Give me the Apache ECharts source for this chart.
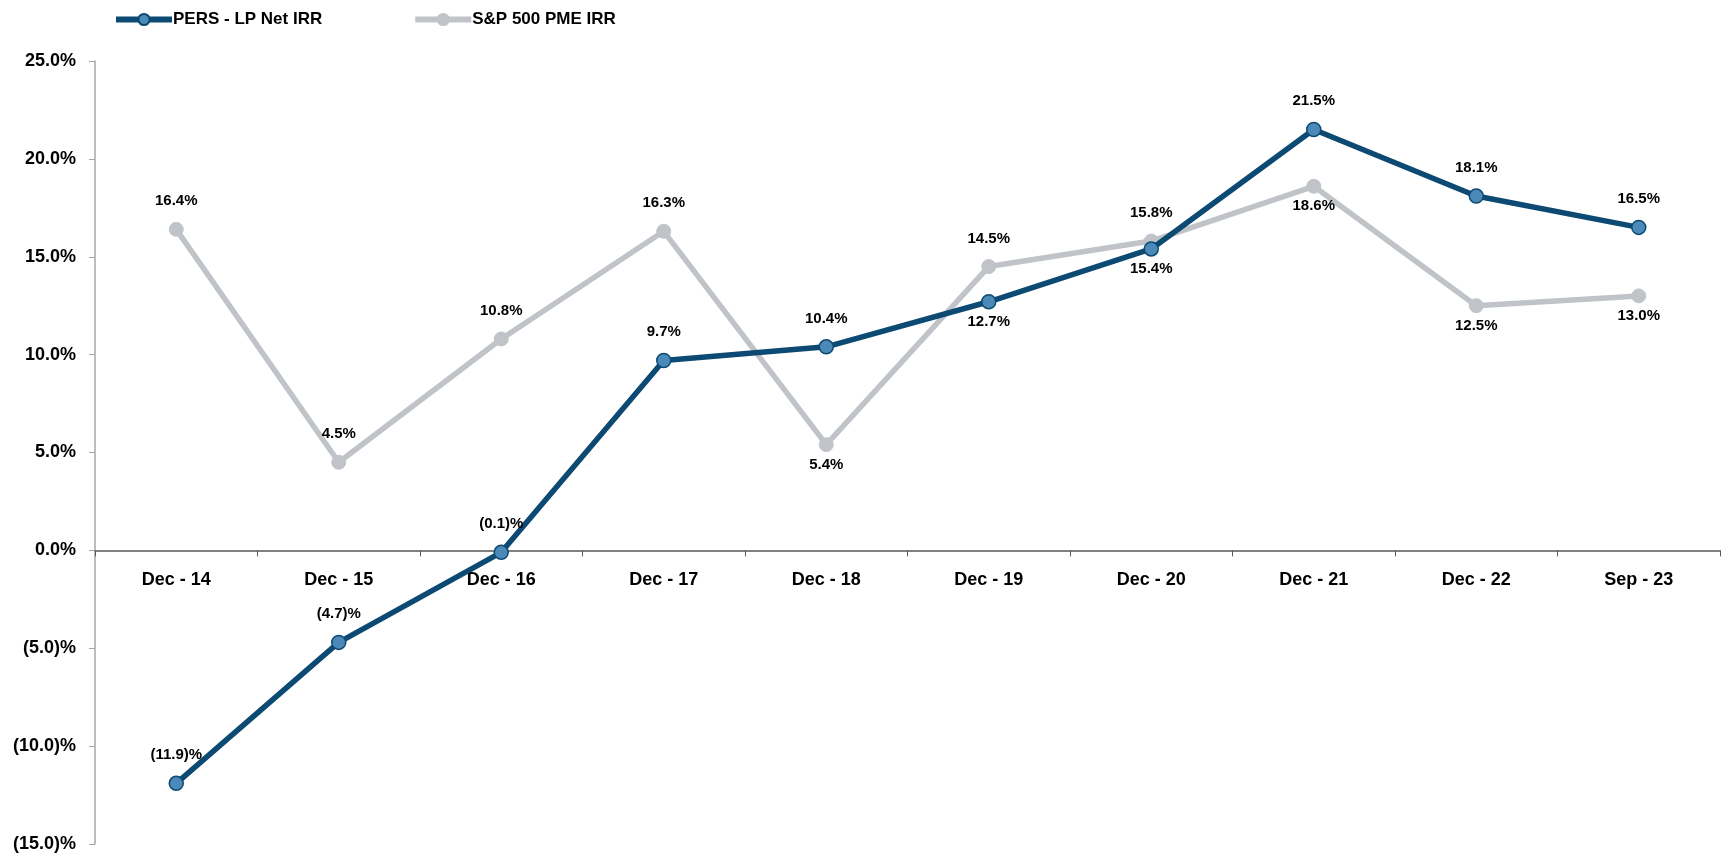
<!DOCTYPE html>
<html><head><meta charset="utf-8">
<script src="https://cdn.jsdelivr.net/npm/echarts@6/dist/echarts.min.js"></script>
<style>html,body{margin:0;padding:0;background:#fff}#c{width:1727px;height:855px}</style>
</head><body><div id="c"></div>
<script>
const categories = ['Dec - 14','Dec - 15','Dec - 16','Dec - 17','Dec - 18','Dec - 19','Dec - 20','Dec - 21','Dec - 22','Sep - 23'];
const persIRR = [-11.9, -4.7, -0.1, 9.7, 10.4, 12.7, 15.4, 21.5, 18.1, 16.5];
const spIRR = [16.4, 4.5, 10.8, 16.3, 5.4, 14.5, 15.8, 18.6, 12.5, 13.0];
const persLabelPos = ['top','top','top','top','top','bottom','bottom','top','top','top'];
const spLabelPos = ['top','top','top','top','bottom','top','top','bottom','bottom','bottom'];
const yMin = -15, yMax = 25, yStep = 5;

const FONT = '"Liberation Sans", Arial, sans-serif';
function fmt(v){ return v < 0 ? '(' + Math.abs(v).toFixed(1) + ')%' : v.toFixed(1) + '%'; }
function build(vals, pos){
  return vals.map((v,i)=>({value:v, label:{position:pos[i], distance: pos[i]==='top'?13:5}}));
}
const H = 855, gTop = 61, gBottom = 11;
const plotH = H - gTop - gBottom;
// distance from grid bottom up to the zero line, so the category labels sit under the zero axis
const zeroFromBottom = plotH * (0 - yMin) / (yMax - yMin);

const chart = echarts.init(document.getElementById('c'));
chart.setOption({
  animation:false,
  legend:{
    top:6, left:108, itemWidth:56, itemHeight:14, itemGap:90,
    lineStyle:{width:6},
    textStyle:{fontFamily:FONT, fontWeight:'bold', fontSize:17, color:'#000', padding:[0,0,0,-4]},
    data:['PERS - LP Net IRR','S&P 500 PME IRR']
  },
  grid:{left:95, right:7, top:gTop, bottom:gBottom, containLabel:false, outerBoundsMode:'none'},
  xAxis:{
    type:'category', data:categories, boundaryGap:true,
    axisLine:{onZero:true, lineStyle:{color:'#595959', width:1.5}},
    axisTick:{show:true, length:6, lineStyle:{color:'#595959'}},
    axisLabel:{fontFamily:FONT, fontWeight:'bold', fontSize:18, color:'#000', margin:-(zeroFromBottom - 21)}
  },
  yAxis:{
    type:'value', min:yMin, max:yMax, interval:yStep,
    axisLine:{show:true, onZero:false, lineStyle:{color:'#a6a6a6', width:1.5}},
    axisTick:{show:true, length:6, lineStyle:{color:'#a6a6a6'}},
    splitLine:{show:false},
    axisLabel:{fontFamily:FONT, fontWeight:'bold', fontSize:18, color:'#000', margin:19, formatter:v=>fmt(v)}
  },
  series:[
    {
      name:'S&P 500 PME IRR', type:'line', data:build(spIRR, spLabelPos), z:2,
      symbol:'circle', symbolSize:14,
      lineStyle:{color:'#c0c4c8', width:5.5},
      itemStyle:{color:'#c0c4c8', borderColor:'#c0c4c8', borderWidth:1},
      label:{show:true, fontFamily:FONT, fontWeight:'bold', fontSize:15, color:'#000', formatter:p=>fmt(p.value)}
    },
    {
      name:'PERS - LP Net IRR', type:'line', data:build(persIRR, persLabelPos), z:3,
      symbol:'circle', symbolSize:14,
      lineStyle:{color:'#0d4a73', width:5.5},
      itemStyle:{color:'#4a89b8', borderColor:'#0d4a73', borderWidth:1.5},
      label:{show:true, fontFamily:FONT, fontWeight:'bold', fontSize:15, color:'#000', formatter:p=>fmt(p.value)}
    }
  ]
});
</script></body></html>
